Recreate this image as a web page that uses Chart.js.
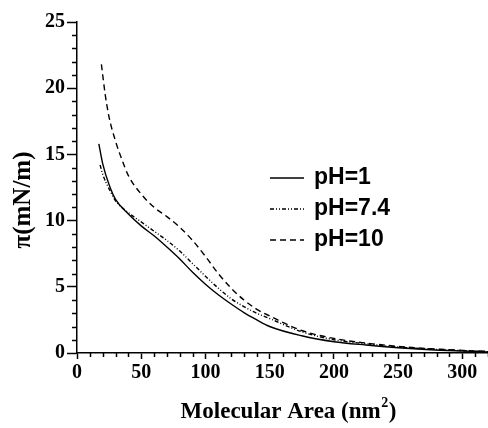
<!DOCTYPE html>
<html><head><meta charset="utf-8">
<script src="https://cdn.jsdelivr.net/npm/chart.js@4/dist/chart.umd.min.js"></script>
<style>html,body{margin:0;padding:0;background:#fff}#wrap{width:488px;height:428px}</style>
</head><body><div id="wrap"><canvas id="c" width="488" height="428"></canvas></div>
<script>
const seriesLabels = ['pH=1', 'pH=7.4', 'pH=10'];
const area_pH1 = [17,20,25,30,40,50,60,70,80,90,100,110,120,130,140,150,175,200,225,250,275,300,320];
const pi_pH1 =   [15.8,14.3,12.7,11.6,10.5,9.6,8.85,8.0,7.1,6.1,5.2,4.4,3.7,3.05,2.5,2.0,1.3,0.85,0.6,0.4,0.25,0.15,0.08];
const area_pH74 = [18,20,25,30,40,50,60,70,80,90,100,110,120,130,140,150,175,200,225,250,275,300,320];
const pi_pH74 =   [14.2,13.5,12.4,11.5,10.6,9.9,9.2,8.5,7.7,6.75,5.8,4.9,4.1,3.5,3.0,2.6,1.6,1.0,0.7,0.45,0.3,0.18,0.1];
const area_pH10 = [19,22,25,30,35,40,50,60,70,80,90,100,110,120,130,140,150,175,200,225,250,275,300,320];
const pi_pH10 =   [21.8,19.5,17.8,16.0,14.6,13.4,12.0,11.0,10.3,9.5,8.5,7.3,6.0,4.9,4.0,3.3,2.8,1.7,1.1,0.75,0.5,0.32,0.2,0.12];
const xTickValues = [0,50,100,150,200,250,300];
const yTickValues = [0,5,10,15,20,25];
const xTitle = ['Molecular Area (nm', '2', ')'];
const yTitle = 'π(mN/m)';

const dashes = [[], [4,2,1,2,1,2], [6,4]];
function pts(xs, ys){ return xs.map((x,i)=>({x:x,y:ys[i]})); }
const SERIF = '"Liberation Serif", "Times New Roman", serif';

const extras = {
  id:'extras',
  afterDraw(chart){
    const ctx = chart.ctx, xs = chart.scales.x, ys = chart.scales.y;
    ctx.save(); ctx.strokeStyle='#000'; ctx.lineWidth=1.5;
    for(let v=0; v<=xs.max; v+=10){ if(v%50===0) continue;
      const p = Math.round(xs.getPixelForValue(v))+0.5;
      ctx.beginPath(); ctx.moveTo(p, ys.bottom); ctx.lineTo(p, ys.bottom+4); ctx.stroke(); }
    for(let v=0; v<=ys.max; v+=1){ if(v%5===0) continue;
      const p = Math.round(ys.getPixelForValue(v))+0.5;
      ctx.beginPath(); ctx.moveTo(xs.left, p); ctx.lineTo(xs.left-5, p); ctx.stroke(); }
    // legend
    ctx.font = 'bold 23px "Liberation Sans", Arial, sans-serif';
    ctx.textBaseline='alphabetic'; ctx.fillStyle='#000';
    chart.data.datasets.forEach((ds,i)=>{
      const y = 178 + i*31;
      ctx.lineWidth=1.4; ctx.setLineDash(ds.borderDash||[]);
      ctx.beginPath(); ctx.moveTo(270,y); ctx.lineTo(304,y); ctx.stroke();
      ctx.setLineDash([]);
      ctx.fillText(ds.label, 314, y+6);
    });
    // x title
    ctx.font = 'bold 23px ' + SERIF;
    const f2 = 'bold 14px ' + SERIF;
    const w0 = ctx.measureText(xTitle[0]).width, w2 = ctx.measureText(xTitle[2]).width;
    ctx.font = f2; const w1 = ctx.measureText(xTitle[1]).width;
    const cx = (xs.left + xs.right)/2 + 6;
    let x0 = cx - (w0+w1+w2+1)/2;
    const base = 418;
    ctx.font = 'bold 23px ' + SERIF; ctx.textAlign='left';
    ctx.fillText(xTitle[0], x0, base);
    ctx.font = f2; ctx.fillText(xTitle[1], x0+w0+0.5, base-11);
    ctx.font = 'bold 23px ' + SERIF; ctx.fillText(xTitle[2], x0+w0+w1+1, base);
    // y title
    ctx.translate(30, 200); ctx.rotate(-Math.PI/2);
    ctx.font = 'bold 25px ' + SERIF; ctx.textAlign='center';
    ctx.fillText(yTitle, 0, 0);
    ctx.restore();
  }
};

const serifBold = {family:SERIF, weight:'bold'};
new Chart(document.getElementById('c'), {
  type:'line',
  data:{ datasets:[
    {label:seriesLabels[0], data:pts(area_pH1,pi_pH1), borderDash:dashes[0]},
    {label:seriesLabels[1], data:pts(area_pH74,pi_pH74), borderDash:dashes[1]},
    {label:seriesLabels[2], data:pts(area_pH10,pi_pH10), borderDash:dashes[2]}
  ].map(d=>Object.assign(d,{borderColor:'#000', borderWidth:1.4, pointRadius:0, fill:false, cubicInterpolationMode:'monotone'}))},
  options:{
    responsive:false, animation:false,
    layout:{padding:{top:22,right:0,left:0,bottom:0}},
    plugins:{legend:{display:false}, tooltip:{enabled:false}},
    scales:{
      x:{type:'linear', min:0, max:320,
        afterBuildTicks(s){ s.ticks = xTickValues.map(v=>({value:v})); },
        afterFit(s){ s.height = 75; },
        grid:{drawOnChartArea:false, drawTicks:true, tickLength:6, tickWidth:1.5, tickColor:'#000'},
        border:{color:'#000', width:1.5},
        ticks:{color:'#000', font:Object.assign({size:20},serifBold), padding:2, maxRotation:0},
        title:{display:false}
      },
      y:{type:'linear', min:0, max:25,
        afterBuildTicks(s){ s.ticks = yTickValues.map(v=>({value:v})); },
        afterFit(s){ s.width = 77; },
        grid:{drawOnChartArea:false, drawTicks:true, tickLength:10, tickWidth:1.5, tickColor:'#000'},
        border:{color:'#000', width:1.5},
        ticks:{color:'#000', font:Object.assign({size:20},serifBold), padding:2},
        title:{display:false}
      }
    }
  },
  plugins:[extras]
});
</script></body></html>
